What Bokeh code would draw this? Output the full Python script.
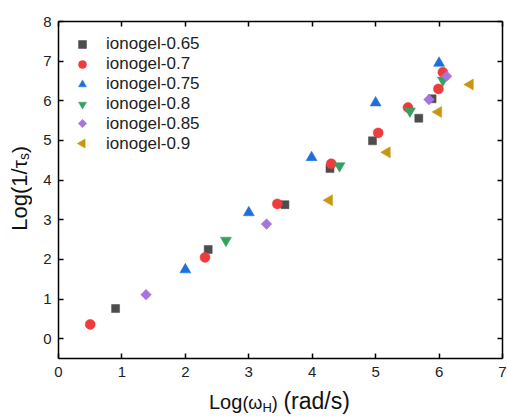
import math
from bokeh.plotting import figure
from bokeh.models import Range1d, LinearAxis, FixedTicker, Div, Legend, LegendItem
from bokeh.layouts import row, column
from bokeh.embed import file_html
from bokeh.resources import INLINE

# ---- data ----
x065 = [0.90, 2.36, 3.57, 4.28, 4.95, 5.68, 5.89]
y065 = [0.76, 2.25, 3.38, 4.29, 4.99, 5.56, 6.05]
x07 = [0.50, 2.31, 3.45, 4.30, 5.04, 5.51, 5.99, 6.06]
y07 = [0.36, 2.05, 3.40, 4.41, 5.19, 5.83, 6.30, 6.72]
x075 = [2.00, 3.00, 3.99, 5.00, 6.00]
y075 = [1.74, 3.18, 4.57, 5.95, 6.95]
x08 = [2.64, 4.43, 5.54, 6.06]
y08 = [2.48, 4.36, 5.74, 6.52]
x085 = [1.38, 3.28, 5.84, 6.12]
y085 = [1.11, 2.89, 6.03, 6.62]
x09 = [4.27, 5.18, 5.99, 6.49]
y09 = [3.49, 4.70, 5.72, 6.41]

series_names = ["ionogel-0.65", "ionogel-0.7", "ionogel-0.75",
                "ionogel-0.8", "ionogel-0.85", "ionogel-0.9"]
x_ticks = [0, 1, 2, 3, 4, 5, 6, 7]
y_ticks = [0, 1, 2, 3, 4, 5, 6, 7, 8]

FONT = "Liberation Sans"
X0, X1, Y0, Y1 = 0, 7, -0.5, 8

# layout (pixels)
W, H = 473, 385
BL, BR, BT, BB = 24, 5, 21, 27
FW, FH = W - BL - BR, H - BT - BB

p = figure(width=W, height=H, x_range=Range1d(X0, X1), y_range=Range1d(Y0, Y1),
           output_backend="svg", toolbar_location=None,
           min_border_left=BL, min_border_right=BR, min_border_top=BT, min_border_bottom=BB)
p.xgrid.visible = False
p.ygrid.visible = False
p.outline_line_color = None

styles = [
    (x065, y065, "square", "#4d4d4d", 8, 0.0),
    (x07, y07, "circle", "#ef3b3b", 10, 0.0),
    (x075, y075, "triangle", "#1f6fdb", 11, 0.0),
    (x08, y08, "inverted_triangle", "#36a062", 11, 0.0),
    (x085, y085, "square", "#a874e0", 7.5, math.pi / 4),
    (x09, y09, "triangle", "#c9960f", 11, math.pi / 2),
]
items = []
nan = float("nan")
for i, ((xs, ys, mk, col, sz, ang), name) in enumerate(zip(styles, series_names)):
    r = p.scatter(xs, ys, marker=mk, size=sz, angle=ang, fill_color=col,
                  line_color=col, line_width=0.5)
    if ang == 0.0:
        items.append(LegendItem(label=name, renderers=[r]))
    else:
        # legend keys do not rotate: use an empty proxy for the key slot
        proxy = p.scatter([nan], [nan], marker=mk, size=sz, fill_alpha=0, line_alpha=0)
        items.append(LegendItem(label=name, renderers=[proxy]))

def style_axis(ax, labels=True, standoff=7):
    ax.axis_line_color = "black"
    ax.axis_line_width = 1.5
    ax.major_tick_line_color = "black"
    ax.major_tick_line_width = 1.5
    ax.major_tick_in = 5
    ax.major_tick_out = 0
    ax.minor_tick_line_color = None
    ax.major_label_text_font = FONT
    ax.major_label_text_color = "#222222"
    if labels:
        ax.major_label_text_font_size = "15px"
        ax.major_label_standoff = standoff
    else:
        ax.major_label_text_font_size = "0px"
        ax.major_label_standoff = 0
        ax.major_label_text_alpha = 0

xb = p.xaxis[0]
yl = p.yaxis[0]
xb.ticker = FixedTicker(ticks=x_ticks)
yl.ticker = FixedTicker(ticks=y_ticks)
style_axis(xb, standoff=8)
style_axis(yl, standoff=7)

xt = LinearAxis(ticker=FixedTicker(ticks=x_ticks))
yr = LinearAxis(ticker=FixedTicker(ticks=y_ticks))
style_axis(xt, labels=False)
style_axis(yr, labels=False)
p.add_layout(xt, "above")
p.add_layout(yr, "right")

LG_ROW = 20
lg = Legend(items=items, location="top_left", border_line_color=None,
            background_fill_alpha=0, glyph_width=22, glyph_height=LG_ROW,
            label_height=LG_ROW, spacing=0, margin=13, padding=5,
            label_standoff=13, label_text_font=FONT, label_text_font_size="17px",
            label_text_color="#222222")
p.add_layout(lg, "center")

# rotated legend keys (diamond and left triangle) drawn in their legend slots
KEY_X_PX, KEY_Y0_PX = 24, 22   # key centre of the first legend row, from frame top-left

def key_pos(idx):
    kx = KEY_X_PX
    ky = KEY_Y0_PX + LG_ROW * idx
    return X0 + kx / FW * (X1 - X0), Y1 - ky / FH * (Y1 - Y0)

for i, (xs, ys, mk, col, sz, ang) in enumerate(styles):
    if ang != 0.0:
        kx, ky = key_pos(i)
        ksz = 6 if mk == "square" else 9
        p.scatter([kx], [ky], marker=mk, size=ksz, angle=ang, fill_color=col,
                  line_color=col, line_width=0.5)

# axis titles as HTML (they need sub-scripts)
xlab_html = (
    "<div style=\"padding-left:175px; padding-top:6px; font-family:'Liberation Sans';"
    " font-size:20px; line-height:20px; color:#111; white-space:nowrap;\">"
    "Log<span style=\"font-size:18px\">(\u03c9</span>"
    "<span style=\"font-size:13px; vertical-align:-3px\">H</span>"
    "<span style=\"font-size:18px\">)</span>"
    " <span style=\"font-size:23px\">(rad/s)</span></div>"
)
ylab_html = (
    "<div style=\"height:376px; display:flex; flex-direction:column; justify-content:center;"
    " align-items:flex-start; padding-left:9px; box-sizing:border-box;\">"
    "<div style=\"writing-mode:vertical-rl; transform:rotate(180deg);"
    " font-family:'Liberation Sans'; font-size:22px; line-height:22px; color:#111;"
    " white-space:nowrap;\">"
    "Log(1/<span style=\"font-size:21px\">\u03c4</span>"
    "<span style=\"font-size:14px; vertical-align:-4px\">s</span>"
    "<span style=\"font-size:21px\">)</span></div></div>"
)
xdiv = Div(text=xlab_html, width=W, height=31, margin=0)
ydiv = Div(text=ylab_html, width=34, height=H, margin=0)

layout = row(ydiv, column(p, xdiv))

open("out.html", "w").write(file_html(layout, INLINE))
